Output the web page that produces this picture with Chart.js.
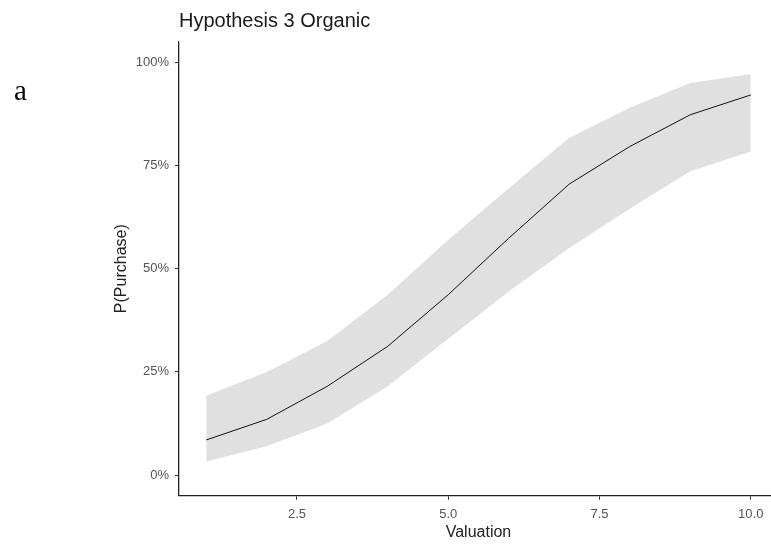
<!DOCTYPE html>
<html>
<head>
<meta charset="utf-8">
<script src="https://cdn.jsdelivr.net/npm/chart.js@4/dist/chart.umd.min.js"></script>
<style>
  html, body { margin: 0; padding: 0; background: #fff; overflow: hidden; }
  #wrap { position: relative; width: 778px; height: 544px; }
  #panel { position: absolute; left: 14px; top: 76px; font: 29px "Liberation Serif", "Times New Roman", serif; line-height: 1; color: #000; }
</style>
</head>
<body>
<div id="wrap">
  <canvas id="organicChart"></canvas>
  <div id="panel">a</div>
</div>
<script>
// values (percent)
const valuation = [1, 2, 3, 4, 5, 6, 7, 8, 9, 10];
const fitPct   = [8.5, 13.5, 21.5, 31.2, 43.7, 57.4, 70.5, 79.6, 87.3, 92.1];
const upperPct = [19.2, 25.0, 32.5, 43.7, 57.0, 69.5, 81.7, 89.0, 95.0, 97.2];
const lowerPct = [3.3, 7.0, 12.5, 21.5, 33.0, 44.5, 55.0, 64.5, 73.6, 78.4];

const xTicks = [2.5, 5, 7.5, 10];
const xTickLabels = ['2.5', '5.0', '7.5', '10.0'];
const yTicks = [0, 25, 50, 75, 100];
const yTickLabels = ['0%', '25%', '50%', '75%', '100%'];

const toPoints = arr => arr.map((v, i) => ({ x: valuation[i], y: v }));

const tickFont = { family: 'Liberation Sans, Arial, sans-serif', size: 13 };
const titleFont = { family: 'Liberation Sans, Arial, sans-serif', size: 16 };

new Chart('organicChart', {
  type: 'line',
  data: {
    datasets: [
      {
        label: 'fit',
        data: toPoints(fitPct),
        borderColor: '#111',
        borderWidth: 1,
        pointRadius: 0,
        tension: 0,
        fill: false,
        order: 0
      },
      {
        label: 'upper',
        data: toPoints(upperPct),
        borderWidth: 0,
        pointRadius: 0,
        fill: '+1',
        backgroundColor: '#e0e0e0',
        order: 1
      },
      {
        label: 'lower',
        data: toPoints(lowerPct),
        borderWidth: 0,
        pointRadius: 0,
        fill: false,
        order: 2
      }
    ]
  },
  options: {
    responsive: true,
    maintainAspectRatio: false,
    animation: false,
    layout: { padding: 0 },
    plugins: {
      legend: { display: false },
      tooltip: { enabled: false },
      title: {
        display: true,
        text: 'Hypothesis 3 Organic',
        align: 'start',
        fullSize: false,
        color: '#1a1a1a',
        font: { family: 'Liberation Sans, Arial, sans-serif', size: 20, weight: 'normal' },
        padding: { top: 9.5, bottom: 8.2 }
      }
    },
    scales: {
      x: {
        type: 'linear',
        min: 0.55,
        max: 10.45,
        afterBuildTicks: s => { s.ticks = xTicks.map(v => ({ value: v })); },
        afterFit: s => { s.height = 48.3; },
        ticks: {
          color: '#555',
          font: tickFont,
          padding: 6.5,
          maxRotation: 0,
          callback: (v, i) => xTickLabels[i]
        },
        grid: { drawOnChartArea: false, drawTicks: true, tickLength: 4, color: '#333' },
        border: { color: '#222', width: 1.3 },
        title: { display: true, text: 'Valuation', color: '#222', font: titleFont, padding: { top: 0, bottom: 1.4 } }
      },
      y: {
        min: -5,
        max: 105,
        afterBuildTicks: s => { s.ticks = yTicks.map(v => ({ value: v })); },
        afterFit: s => { s.width = 179; },
        ticks: {
          color: '#555',
          font: tickFont,
          padding: 6,
          callback: (v, i) => yTickLabels[i]
        },
        grid: { drawOnChartArea: false, drawTicks: true, tickLength: 4, color: '#333' },
        border: { color: '#222', width: 1.3 },
        title: { display: true, text: 'P(Purchase)', color: '#222', font: titleFont, padding: { top: 112, bottom: 0 } }
      }
    }
  }
});
</script>
</body>
</html>
